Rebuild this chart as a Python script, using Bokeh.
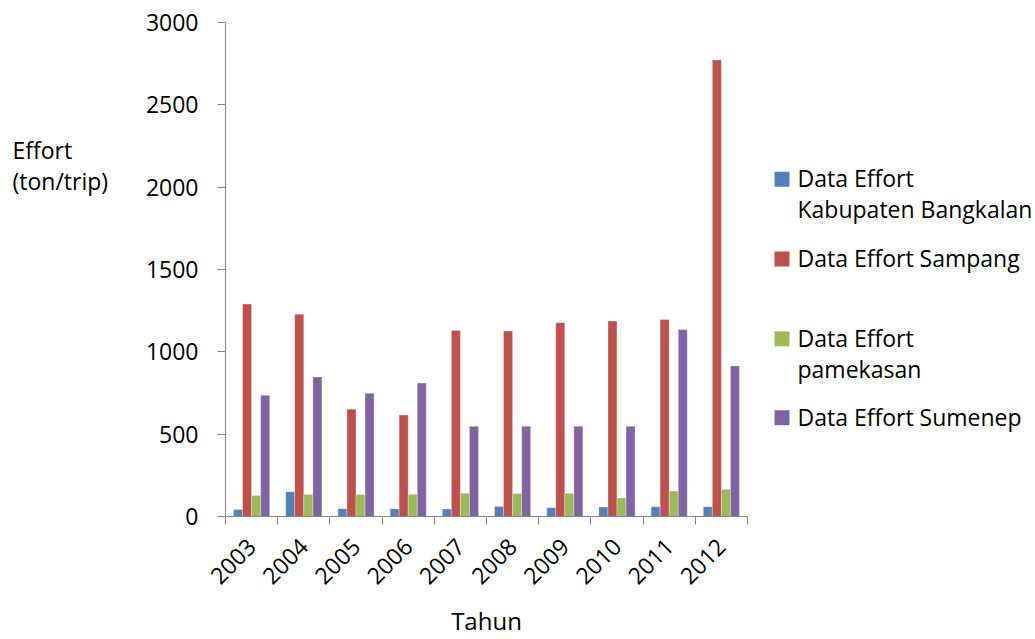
import numpy as np
from bokeh.plotting import figure
from bokeh.layouts import row
from bokeh.models import ColumnDataSource, Range1d, FixedTicker
from bokeh.core.properties import value
from bokeh.embed import file_html
from bokeh.resources import INLINE

years = ["2003", "2004", "2005", "2006", "2007", "2008", "2009", "2010", "2011", "2012"]
series_names = ["Data Effort\nKabupaten Bangkalan", "Data Effort Sampang",
                "Data Effort\npamekasan", "Data Effort Sumenep"]
colors = ["#4F81BD", "#C0504D", "#9BBB59", "#8064A2"]
bangkalan = [42, 150, 47, 47, 45, 61, 53, 57, 59, 59]
sampang = [1290, 1228, 652, 616, 1130, 1127, 1177, 1187, 1197, 2772]
pamekasan = [128, 134, 133, 135, 141, 139, 141, 113, 155, 165]
sumenep = [737, 847, 749, 810, 548, 548, 548, 548, 1135, 914]
y_ticks = [0, 500, 1000, 1500, 2000, 2500, 3000]
y_axis_title = ["Effort", "(ton/trip)"]
x_axis_title = "Tahun"

FONT = "Open Sans"
FS = "23px"
series = [bangkalan, sampang, pamekasan, sumenep]
offsets = [-0.26, -0.087, 0.087, 0.26]
bar_w = 0.173

# Side panels share the main frame's vertical extent (page y 22..517),
# so their y range is set to page pixels.

# ---------- left panel: horizontal y-axis title ----------
left = figure(width=140, height=639, x_range=Range1d(0, 140), y_range=Range1d(517, 22),
              output_backend="svg", toolbar_location=None, min_border=0)
left.axis.visible = False
left.grid.visible = False
left.outline_line_color = None
left.text(x=[12, 12], y=[150, 181], text=y_axis_title, text_font=value(FONT),
          text_font_size=FS, text_color="#000000", text_baseline="alphabetic", text_align="left")

# ---------- main chart ----------
idx = np.arange(len(years))
p = figure(width=620, height=639, x_range=Range1d(-0.5, len(years) - 0.5),
           y_range=Range1d(0, 3000), output_backend="svg", toolbar_location=None,
           min_border_left=85, min_border_right=13, min_border_top=22, min_border_bottom=122)
p.grid.visible = False
p.outline_line_color = None

for vals, col, off in zip(series, colors, offsets):
    src = ColumnDataSource(dict(x=idx + off, top=vals))
    p.vbar(x="x", top="top", bottom=0, width=bar_w, source=src, fill_color=col,
           line_color="white", line_width=0.6, line_alpha=0.5)

p.yaxis.ticker = FixedTicker(ticks=y_ticks)
p.yaxis.major_tick_out = 8
p.yaxis.major_tick_in = 0
p.yaxis.minor_tick_line_color = None
p.yaxis.major_label_standoff = 19
p.yaxis.axis_line_color = "#868686"
p.yaxis.major_tick_line_color = "#868686"
p.yaxis.major_label_text_font = FONT
p.yaxis.major_label_text_font_size = FS
p.yaxis.major_label_text_color = "#000000"

p.xaxis.ticker = FixedTicker(ticks=list(idx), minor_ticks=list(np.arange(len(years) + 1) - 0.5))
p.xaxis.major_label_overrides = {int(i): y for i, y in zip(idx, years)}
p.xaxis.major_tick_line_color = None
p.xaxis.major_tick_out = 8
p.xaxis.minor_tick_out = 8
p.xaxis.minor_tick_in = 0
p.xaxis.minor_tick_line_color = "#868686"
p.xaxis.axis_line_color = "#868686"
p.xaxis.major_label_orientation = np.pi / 4
p.xaxis.major_label_standoff = 18
p.xaxis.major_label_text_font = FONT
p.xaxis.major_label_text_font_size = FS
p.xaxis.major_label_text_color = "#000000"
p.xaxis.axis_label = x_axis_title
p.xaxis.axis_label_text_font = FONT
p.xaxis.axis_label_text_font_size = "24px"
p.xaxis.axis_label_text_font_style = "normal"
p.xaxis.axis_label_text_color = "#000000"
p.xaxis.axis_label_standoff = 9

# ---------- legend panel ----------
leg = figure(width=275, height=639, x_range=Range1d(0, 275), y_range=Range1d(517, 22),
             output_backend="svg", toolbar_location=None, min_border=0)
leg.axis.visible = False
leg.grid.visible = False
leg.outline_line_color = None
entry_y = [179, 259, 339, 418]
for name, col, ey in zip(series_names, colors, entry_y):
    leg.rect(x=[21.5], y=[ey], width=15, height=15, fill_color=col, line_color=None)
    lines = name.split("\n")
    leg.text(x=[37] * len(lines), y=[ey - 1 + 31 * k for k in range(len(lines))], text=lines,
             text_font=value(FONT), text_font_size=FS, text_color="#000000",
             text_baseline="alphabetic", text_align="left")

layout = row(left, p, leg)
open("out.html", "w").write(file_html(layout, INLINE))
